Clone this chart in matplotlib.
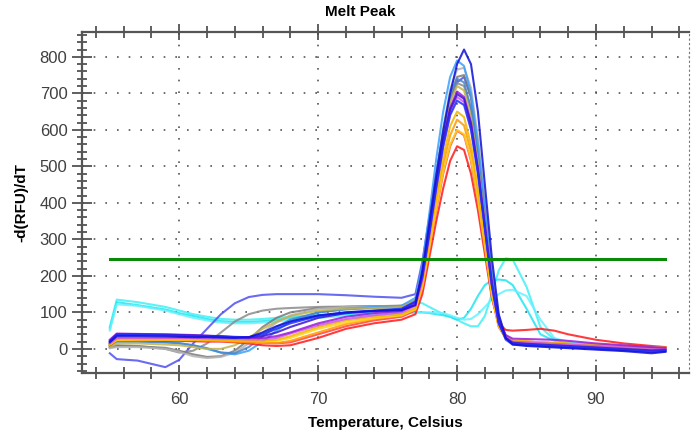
import numpy as np
import matplotlib.pyplot as plt
from matplotlib.ticker import MultipleLocator

plt.rcParams['font.family'] = ['Liberation Sans', 'DejaVu Sans']

# temperature points (Celsius)
temps = [55, 55.5, 57, 59, 60, 61, 62, 63, 64, 65, 66, 67, 68, 70, 72, 74, 76,
         77, 77.5, 78, 78.5, 79, 79.5, 80, 80.5, 81, 81.5, 82, 82.5, 83, 83.5, 84,
         85, 86, 87, 88, 90, 92, 94, 95]

# -d(RFU)/dT, one list per well
red_a = [10, 25, 25, 22, 22, 21, 20, 20, 18, 15, 10, 8, 10, 30, 55, 70, 80,
         95, 150, 250, 350, 440, 515, 555, 545, 480, 380, 260, 140, 70, 52, 50,
         52, 55, 50, 40, 25, 15, 8, 5]
red_b = [15, 30, 30, 28, 27, 26, 25, 24, 22, 20, 17, 15, 18, 40, 62, 78, 88,
         105, 165, 270, 380, 480, 555, 598, 585, 515, 405, 275, 145, 60, 30, 22,
         20, 18, 16, 14, 10, 7, 4, 3]
orange = [12, 25, 26, 25, 25, 24, 23, 22, 20, 18, 16, 16, 22, 45, 68, 82, 92,
          110, 175, 285, 400, 505, 585, 628, 612, 540, 420, 285, 150, 62, 30, 22,
          20, 18, 16, 14, 10, 7, 4, 3]
gold = [14, 27, 27, 26, 26, 25, 25, 24, 23, 22, 22, 25, 35, 60, 78, 88, 95,
        112, 180, 295, 415, 525, 610, 650, 635, 560, 440, 300, 160, 65, 32, 22,
        20, 18, 16, 14, 10, 7, 4, 3]
yellow = [12, 24, 25, 25, 25, 25, 24, 24, 23, 22, 20, 22, 30, 55, 72, 84, 92,
          108, 170, 275, 385, 485, 560, 600, 588, 520, 410, 282, 150, 62, 32, 22,
          20, 18, 16, 14, 10, 7, 4, 3]
blue = [20, 38, 38, 37, 36, 35, 34, 33, 32, 32, 40, 55, 70, 90, 100, 105, 110,
        130, 200, 315, 440, 555, 640, 680, 668, 600, 480, 330, 175, 70, 28, 15,
        12, 10, 8, 6, 2, -3, -8, -6]
indigo = [22, 40, 40, 39, 38, 37, 36, 35, 33, 32, 35, 45, 60, 85, 98, 104, 108,
          128, 205, 325, 455, 570, 655, 698, 685, 615, 490, 335, 178, 72, 30, 17,
          14, 12, 10, 8, 4, 0, -4, -3]
purple = [25, 42, 41, 40, 39, 38, 36, 34, 32, 30, 30, 35, 45, 70, 88, 98, 104,
          122, 195, 320, 450, 570, 660, 705, 690, 620, 495, 340, 185, 80, 38, 28,
          27, 26, 25, 22, 15, 10, 5, 3]
orchid = [15, 30, 30, 30, 30, 30, 29, 28, 27, 26, 26, 30, 42, 65, 82, 92, 100,
          118, 190, 310, 440, 555, 645, 690, 676, 605, 485, 330, 175, 70, 32, 20,
          18, 16, 14, 12, 8, 5, 2, 1]
khaki = [5, 15, 15, 12, 10, 5, 0, 0, 10, 30, 55, 75, 90, 105, 110, 112, 115,
         132, 210, 335, 465, 585, 675, 720, 708, 635, 505, 345, 182, 72, 30, 18,
         16, 14, 12, 10, 6, 3, 0, 0]
steel = [8, 20, 20, 18, 16, 10, 2, -10, -12, 5, 35, 60, 80, 100, 108, 112, 115,
         130, 210, 340, 475, 600, 695, 740, 730, 660, 525, 360, 190, 75, 30, 17,
         14, 12, 10, 8, 4, 0, -3, -2]
gray_a = [3, 8, 7, 3, -5, -15, -22, -20, -5, 25, 60, 85, 100, 112, 115, 117, 118,
          132, 205, 330, 465, 590, 690, 745, 750, 690, 560, 390, 210, 85, 35, 20,
          16, 13, 10, 8, 5, 2, 0, 0]
gray_b = [2, 5, 5, 0, -8, -20, -25, -22, -10, 15, 45, 72, 92, 110, 115, 116, 117,
          130, 205, 335, 475, 605, 710, 765, 770, 715, 580, 405, 220, 90, 36, 20,
          16, 13, 10, 8, 5, 2, 0, 0]
gray_c = [5, 10, 8, 0, -10, -5, 15, 45, 75, 95, 105, 110, 112, 115, 116, 117, 118,
          132, 210, 335, 470, 590, 680, 728, 720, 655, 525, 360, 190, 78, 32, 18,
          16, 13, 10, 8, 5, 2, 0, 0]
sky = [12, 20, 20, 18, 15, 10, 0, -10, -15, -5, 20, 50, 75, 100, 110, 115, 118,
       140, 230, 370, 520, 650, 745, 790, 775, 700, 560, 385, 205, 80, 32, 18,
       15, 12, 10, 8, 4, 0, -4, -3]
navy = [18, 35, 35, 34, 33, 32, 32, 31, 30, 32, 45, 62, 75, 92, 100, 104, 106,
        120, 215, 345, 475, 595, 700, 780, 820, 780, 650, 450, 250, 95, 30, 12,
        8, 6, 4, 2, -2, -6, -12, -8]
violet = [-12, -28, -32, -50, -30, 15, 55, 95, 125, 142, 148, 150, 150, 150, 147, 143, 140,
          150, 240, 360, 480, 590, 680, 730, 745, 690, 560, 380, 200, 75, 25, 12,
          10, 8, 6, 4, 0, -4, -8, -6]
cyan_a = [60, 135, 128, 115, 105, 95, 88, 82, 80, 80, 82, 85, 88, 92, 96, 100, 112,
          128, 125, 115, 105, 95, 88, 80, 70, 62, 62, 90, 150, 215, 248, 245,
          170, 60, 25, 18, 12, 8, 3, 2]
cyan_b = [55, 128, 120, 108, 98, 90, 82, 76, 74, 74, 76, 80, 84, 90, 95, 98, 100,
          100, 100, 98, 95, 92, 88, 80, 85, 110, 145, 175, 188, 190, 188, 175,
          110, 40, 22, 16, 10, 6, 2, 0]
cyan_c = [50, 122, 118, 105, 95, 85, 78, 72, 70, 70, 72, 75, 80, 85, 90, 93, 97,
          100, 100, 100, 100, 98, 92, 85, 80, 82, 95, 115, 135, 150, 160, 162,
          145, 80, 30, 18, 10, 6, 2, 0]

threshold = 245

wells = [
    (cyan_a, "#3ff0f5"), (cyan_b, "#22e6f0"), (cyan_c, "#66f2ff"),
    (violet, "#5050f0"), (gray_c, "#8c8c8c"), (gray_a, "#7a7a7a"),
    (gray_b, "#b4b4b4"), (sky, "#3aa0ff"), (steel, "#4a86c8"),
    (khaki, "#c0b450"), (red_a, "#ff1a1a"), (red_b, "#ff4040"),
    (orange, "#ff9900"), (yellow, "#ffd21a"), (gold, "#f0b400"),
    (orchid, "#cc55ee"), (purple, "#9a1ad8"), (indigo, "#3c14d0"),
    (blue, "#2030ff"), (navy, "#1010d8"),
]

fig = plt.figure(figsize=(6.91, 4.36), dpi=100)
ax = fig.add_axes([0.1187, 0.1445, 0.8785, 0.7821])

for vals, color in wells:
    ax.plot(temps, vals, color=color, lw=1.5, alpha=0.85)

ax.plot([55, 95], [threshold, threshold], color="#0a8a0a", lw=2.2)

ax.set_xlim(53, 96.7)
ax.set_ylim(-66, 868)

ax.xaxis.set_major_locator(MultipleLocator(10))
ax.xaxis.set_minor_locator(MultipleLocator(2))
ax.yaxis.set_major_locator(MultipleLocator(100))
ax.yaxis.set_minor_locator(MultipleLocator(20))
ax.set_yticks(np.arange(0, 900, 100))

ax.grid(True, which="major", color="#555555", linestyle=(0, (1, 6)), lw=1.2)

ax.tick_params(axis="x", which="both", direction="inout", top=True,
               length=8, width=1.2, color="#444444", labelsize=12,
               labelcolor="#404040", pad=8)
ax.tick_params(axis="x", which="major", length=12)
ax.tick_params(axis="y", which="both", direction="inout", length=7,
               width=1.2, color="#444444", labelsize=12, labelcolor="#404040")
ax.tick_params(axis="y", which="major", length=14)

for side in ["left", "bottom", "top"]:
    ax.spines[side].set_color("#555555")
    ax.spines[side].set_linewidth(1.6)
ax.spines["right"].set_linestyle((0, (1, 3)))
ax.spines["right"].set_color("#777777")

ax.set_xlabel("Temperature, Celsius", fontsize=11, fontweight="bold", labelpad=6)
ax.set_ylabel("-d(RFU)/dT", fontsize=11, fontweight="bold", labelpad=8)
fig.text(0.521, 0.972, "Melt Peak", fontsize=11, fontweight="bold",
         ha="center", va="center")

fig.savefig("out.png", dpi=100)
